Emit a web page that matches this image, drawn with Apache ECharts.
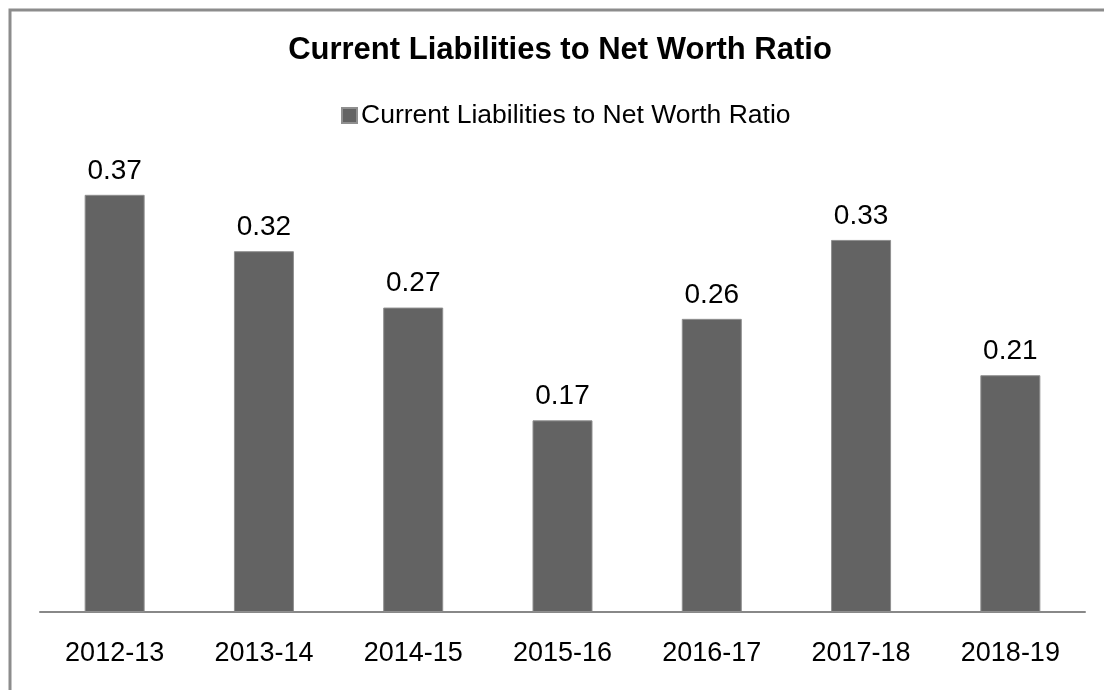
<!DOCTYPE html>
<html>
<head>
<meta charset="utf-8">
<script src="https://cdn.jsdelivr.net/npm/echarts@6/dist/echarts.min.js"></script>
<style>
html,body{margin:0;padding:0;background:#fff;}
#chart{width:1104px;height:690px;}
</style>
</head>
<body>
<div id="chart"></div>
<script>
const titleText = 'Current Liabilities to Net Worth Ratio';
const seriesName = 'Current Liabilities to Net Worth Ratio';
const categories = ['2012-13', '2013-14', '2014-15', '2015-16', '2016-17', '2017-18', '2018-19'];
const values = [0.37, 0.32, 0.27, 0.17, 0.26, 0.33, 0.21];

const FONT = '"Liberation Sans", Arial, sans-serif';
const chart = echarts.init(document.getElementById('chart'), null, {renderer: 'canvas'});
chart.setOption({
  animation: false,
  backgroundColor: '#ffffff',
  graphic: [{
    type: 'rect',
    shape: {x: 10, y: 10, width: 1300, height: 900},
    style: {fill: 'none', stroke: '#8c8c8c', lineWidth: 3},
    silent: true
  }],
  title: {
    text: titleText,
    left: 555,
    textAlign: 'center',
    top: 30,
    textStyle: {fontFamily: FONT, fontSize: 31, fontWeight: 'bold', color: '#000'}
  },
  legend: {
    data: [seriesName],
    top: 97,
    left: 336,
    itemWidth: 15,
    itemHeight: 15,
    itemGap: 5,
    icon: 'rect',
    textStyle: {fontFamily: FONT, fontSize: 26.5, color: '#000', padding: [0, 0, 0, -1]}
  },
  grid: {left: 40, right: 19, top: 161, bottom: 78, containLabel: false},
  xAxis: {
    type: 'category',
    data: categories,
    axisLine: {lineStyle: {color: '#888888', width: 2}},
    axisTick: {show: false},
    axisLabel: {fontFamily: FONT, fontSize: 27, color: '#000', margin: 28}
  },
  yAxis: {
    type: 'value',
    min: 0,
    max: 0.4,
    show: false,
    splitLine: {show: false}
  },
  series: [{
    name: seriesName,
    type: 'bar',
    data: values,
    barWidth: 60,
    itemStyle: {color: '#636363', borderColor: '#8f8f8f', borderWidth: 1},
    label: {
      show: true,
      position: 'top',
      distance: 10,
      fontFamily: FONT,
      fontSize: 28,
      color: '#000',
      formatter: p => p.value.toFixed(2)
    }
  }]
});
</script>
</body>
</html>
